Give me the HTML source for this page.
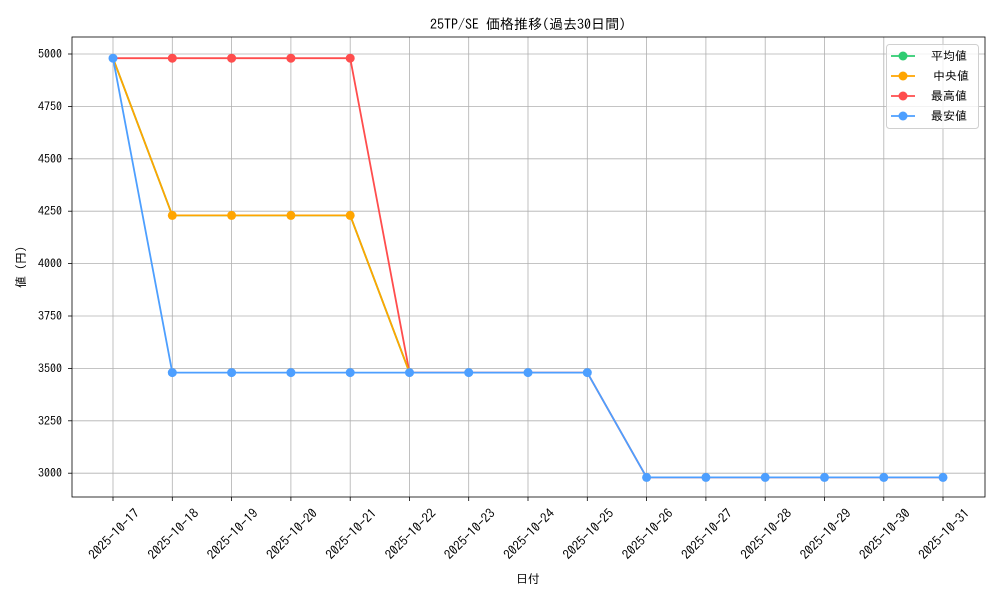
<!DOCTYPE html>
<html><head><meta charset="utf-8"><style>body{margin:0;background:#fff}svg{display:block;font-family:"IPAGothic","Liberation Sans",sans-serif}</style></head><body>
<svg width="1000" height="600" xmlns="http://www.w3.org/2000/svg">
<rect width="1000" height="600" fill="#fff"/>
<text x="528" y="29" font-size="14" text-anchor="middle">25TP/SE 価格推移(過去30日間)</text>
<g stroke="#b0b0b0" stroke-width="0.8">
<line x1="72" x2="985" y1="54" y2="54"/><line x1="72" x2="985" y1="106.4" y2="106.4"/><line x1="72" x2="985" y1="158.8" y2="158.8"/><line x1="72" x2="985" y1="211.2" y2="211.2"/><line x1="72" x2="985" y1="263.6" y2="263.6"/><line x1="72" x2="985" y1="316" y2="316"/><line x1="72" x2="985" y1="368.4" y2="368.4"/><line x1="72" x2="985" y1="420.8" y2="420.8"/><line x1="72" x2="985" y1="473.2" y2="473.2"/>
<line y1="37" y2="497" x1="113" x2="113"/><line y1="37" y2="497" x1="172.3" x2="172.3"/><line y1="37" y2="497" x1="231.6" x2="231.6"/><line y1="37" y2="497" x1="290.9" x2="290.9"/><line y1="37" y2="497" x1="350.2" x2="350.2"/><line y1="37" y2="497" x1="409.5" x2="409.5"/><line y1="37" y2="497" x1="468.7" x2="468.7"/><line y1="37" y2="497" x1="528" x2="528"/><line y1="37" y2="497" x1="587.3" x2="587.3"/><line y1="37" y2="497" x1="646.6" x2="646.6"/><line y1="37" y2="497" x1="705.9" x2="705.9"/><line y1="37" y2="497" x1="765.2" x2="765.2"/><line y1="37" y2="497" x1="824.5" x2="824.5"/><line y1="37" y2="497" x1="883.8" x2="883.8"/><line y1="37" y2="497" x1="943" x2="943"/>
</g>
<rect x="72" y="37" width="913" height="460" fill="none" stroke="#000" stroke-width="0.8"/>
<g font-size="12" text-anchor="end">
<text x="62" y="58">5000</text><text x="62" y="110.4">4750</text><text x="62" y="162.8">4500</text><text x="62" y="215.2">4250</text><text x="62" y="267.6">4000</text><text x="62" y="320">3750</text><text x="62" y="372.4">3500</text><text x="62" y="424.8">3250</text><text x="62" y="477.2">3000</text>
</g>
<g stroke="#000" stroke-width="0.8">
<line x1="68" x2="72" y1="54" y2="54"/><line x1="68" x2="72" y1="106.4" y2="106.4"/><line x1="68" x2="72" y1="158.8" y2="158.8"/><line x1="68" x2="72" y1="211.2" y2="211.2"/><line x1="68" x2="72" y1="263.6" y2="263.6"/><line x1="68" x2="72" y1="316" y2="316"/><line x1="68" x2="72" y1="368.4" y2="368.4"/><line x1="68" x2="72" y1="420.8" y2="420.8"/><line x1="68" x2="72" y1="473.2" y2="473.2"/>
<line y1="497" y2="501" x1="113" x2="113"/><line y1="497" y2="501" x1="172.3" x2="172.3"/><line y1="497" y2="501" x1="231.6" x2="231.6"/><line y1="497" y2="501" x1="290.9" x2="290.9"/><line y1="497" y2="501" x1="350.2" x2="350.2"/><line y1="497" y2="501" x1="409.5" x2="409.5"/><line y1="497" y2="501" x1="468.7" x2="468.7"/><line y1="497" y2="501" x1="528" x2="528"/><line y1="497" y2="501" x1="587.3" x2="587.3"/><line y1="497" y2="501" x1="646.6" x2="646.6"/><line y1="497" y2="501" x1="705.9" x2="705.9"/><line y1="497" y2="501" x1="765.2" x2="765.2"/><line y1="497" y2="501" x1="824.5" x2="824.5"/><line y1="497" y2="501" x1="883.8" x2="883.8"/><line y1="497" y2="501" x1="943" x2="943"/>
</g>
<g font-size="13" text-anchor="middle" dominant-baseline="central">
<text transform="translate(114,534) rotate(-45)">2025-10-17</text>
<text transform="translate(173.3,534) rotate(-45)">2025-10-18</text>
<text transform="translate(232.6,534) rotate(-45)">2025-10-19</text>
<text transform="translate(291.9,534) rotate(-45)">2025-10-20</text>
<text transform="translate(351.2,534) rotate(-45)">2025-10-21</text>
<text transform="translate(410.5,534) rotate(-45)">2025-10-22</text>
<text transform="translate(469.7,534) rotate(-45)">2025-10-23</text>
<text transform="translate(529,534) rotate(-45)">2025-10-24</text>
<text transform="translate(588.3,534) rotate(-45)">2025-10-25</text>
<text transform="translate(647.6,534) rotate(-45)">2025-10-26</text>
<text transform="translate(706.9,534) rotate(-45)">2025-10-27</text>
<text transform="translate(766.2,534) rotate(-45)">2025-10-28</text>
<text transform="translate(825.5,534) rotate(-45)">2025-10-29</text>
<text transform="translate(884.8,534) rotate(-45)">2025-10-30</text>
<text transform="translate(944,534) rotate(-45)">2025-10-31</text>
</g>
<text x="528" y="583" font-size="12" text-anchor="middle">日付</text>
<text transform="translate(25,267) rotate(-90)" font-size="12" text-anchor="middle">値 (円)</text>
<!-- max -->
<polyline fill="none" stroke="#ff4d4d" stroke-width="1.8" points="113,58.2 172.3,58.2 231.6,58.2 290.9,58.2 350.2,58.2 409.5,372.6 468.7,372.6 528,372.6 587.3,372.6 646.6,477.4 705.9,477.4 765.2,477.4 824.5,477.4 883.8,477.4 943,477.4"/>
<g fill="#ff4d4d"><circle cx="172.3" cy="58.2" r="4.5"/><circle cx="231.6" cy="58.2" r="4.5"/><circle cx="290.9" cy="58.2" r="4.5"/><circle cx="350.2" cy="58.2" r="4.5"/></g>
<!-- avg/median -->
<polyline fill="none" stroke="#2ecc71" stroke-width="1.8" points="113,58.2 172.3,215.4 231.6,215.4 290.9,215.4 350.2,215.4 409.5,372.6"/>
<polyline fill="none" stroke="#ffa500" stroke-width="1.8" points="113,58.2 172.3,215.4 231.6,215.4 290.9,215.4 350.2,215.4 409.5,372.6"/>
<g fill="#ffa500"><circle cx="172.3" cy="215.4" r="4.5"/><circle cx="231.6" cy="215.4" r="4.5"/><circle cx="290.9" cy="215.4" r="4.5"/><circle cx="350.2" cy="215.4" r="4.5"/></g>
<!-- min -->
<polyline fill="none" stroke="#4d9fff" stroke-width="1.8" points="113,58.2 172.3,372.6 231.6,372.6 290.9,372.6 350.2,372.6 409.5,372.6 468.7,372.6 528,372.6 587.3,372.6 646.6,477.4 705.9,477.4 765.2,477.4 824.5,477.4 883.8,477.4 943,477.4"/>
<g fill="#4d9fff"><circle cx="113" cy="58.2" r="4.5"/><circle cx="172.3" cy="372.6" r="4.5"/><circle cx="231.6" cy="372.6" r="4.5"/><circle cx="290.9" cy="372.6" r="4.5"/><circle cx="350.2" cy="372.6" r="4.5"/><circle cx="409.5" cy="372.6" r="4.5"/><circle cx="468.7" cy="372.6" r="4.5"/><circle cx="528" cy="372.6" r="4.5"/><circle cx="587.3" cy="372.6" r="4.5"/><circle cx="646.6" cy="477.4" r="4.5"/><circle cx="705.9" cy="477.4" r="4.5"/><circle cx="765.2" cy="477.4" r="4.5"/><circle cx="824.5" cy="477.4" r="4.5"/><circle cx="883.8" cy="477.4" r="4.5"/><circle cx="943" cy="477.4" r="4.5"/></g>
<!-- legend -->
<rect x="886.5" y="44.5" width="92" height="84" rx="3" fill="#fff" fill-opacity="0.8" stroke="#d0d0d0"/>
<g stroke-width="1.8">
<line x1="891" x2="915" y1="56" y2="56" stroke="#2ecc71"/><circle cx="903" cy="56" r="4.5" fill="#2ecc71"/>
<line x1="891" x2="915" y1="76" y2="76" stroke="#ffa500"/><circle cx="903" cy="76" r="4.5" fill="#ffa500"/>
<line x1="891" x2="915" y1="96" y2="96" stroke="#ff4d4d"/><circle cx="903" cy="96" r="4.5" fill="#ff4d4d"/>
<line x1="891" x2="915" y1="116" y2="116" stroke="#4d9fff"/><circle cx="903" cy="116" r="4.5" fill="#4d9fff"/>
</g>
<g font-size="12">
<text x="931" y="60">平均値</text><text x="933" y="80">中央値</text><text x="931" y="100">最高値</text><text x="931" y="120">最安値</text>
</g>
</svg>
</body></html>
